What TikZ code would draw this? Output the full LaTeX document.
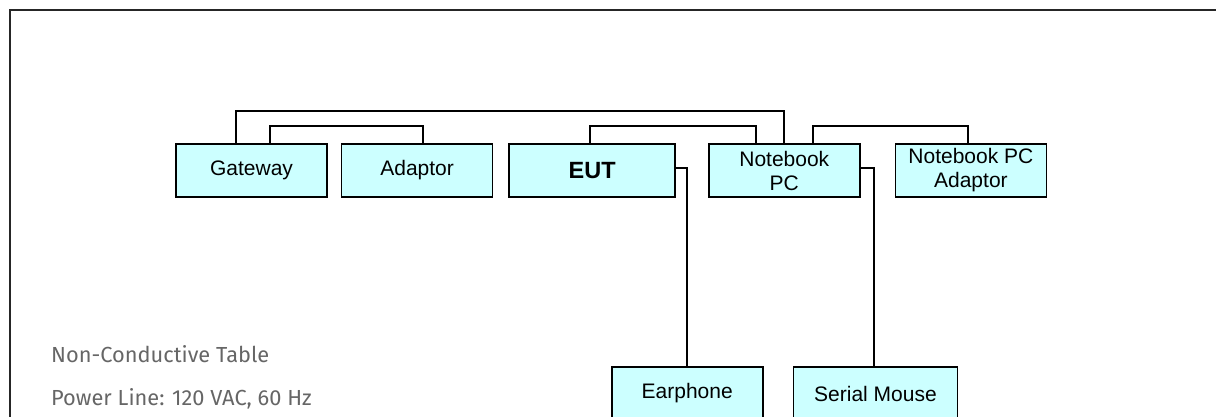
\documentclass[tikz,border=0pt]{standalone}
\usepackage{fontspec}
\setmainfont{Liberation Sans}
\newfontfamily\notefont{Fira Sans}
\definecolor{BoxCyan}{HTML}{CCFFFF}
\definecolor{NoteGray}{HTML}{666666}
\usetikzlibrary{
  positioning,
  calc
}

\begin{document}
\begin{tikzpicture}[
  x=1pt, y=-1pt,
  node distance=13pt,
  devbox/.style={
    rectangle, draw=black, fill=BoxCyan, line width=1.6pt,
    minimum width=151pt, minimum height=53pt,
    inner sep=0pt, font=\fontsize{21}{24}\selectfont, align=center
  },
  cable/.style={
    line width=2pt, black
  },
  note/.style={
    anchor=base west, inner sep=0pt, text=NoteGray,
    font=\notefont\fontsize{21.8}{24}\selectfont
  }
]
  \useasboundingbox (0,0) rectangle (1216,417);

  % Table outline
  \draw[line width=2.4pt, black!85] (10,440) -- (10,10) -- (1240,10);

  % Devices on the table (top row)
  \node[devbox] (gateway) at (251.5,170.5) {Gateway};
  \node[devbox, right=13pt of gateway] (adaptor) {Adaptor};
  \node[devbox, minimum width=166pt, right=15pt of adaptor] (eut)
    {\fontsize{23.5}{26}\selectfont\textbf{EUT}};
  \node[devbox, right=32pt of eut] (notebook) {Notebook\\PC};
  \node[devbox, right=34pt of notebook] (nbadaptor)
    {Notebook PC\\Adaptor};

  % Peripherals (bottom row)
  \node[devbox] (earphone) at (687.2,393.5) {Earphone};
  \node[devbox, minimum width=164pt] (mouse) at (875.5,393.5)
    {Serial Mouse};

  % Cables
  \draw[cable] ([xshift=-15.5pt]gateway.north) -- ++(0,-32)
    -| (notebook.north);
  \draw[cable] ([xshift=18.5pt]gateway.north) -- ++(0,-17)
    -| ([xshift=5.7pt]adaptor.north);
  \draw[cable] ([xshift=-2pt]eut.north) -- ++(0,-17)
    -| ([xshift=-28.8pt]notebook.north);
  \draw[cable] ([xshift=28.8pt]notebook.north) -- ++(0,-17)
    -| ([xshift=-3.3pt]nbadaptor.north);
  \draw[cable] ([yshift=2pt]eut.east) -| (earphone.north);
  \draw[cable] ([yshift=2pt]notebook.east) -| ([xshift=-2pt]mouse.north);

  % Notes
  \node[note] (table) at (51,362) {Non-Conductive Table};
  \node[note] (power) at (51,405) {Power Line: 120 VAC, 60 Hz};
\end{tikzpicture}
\end{document}
